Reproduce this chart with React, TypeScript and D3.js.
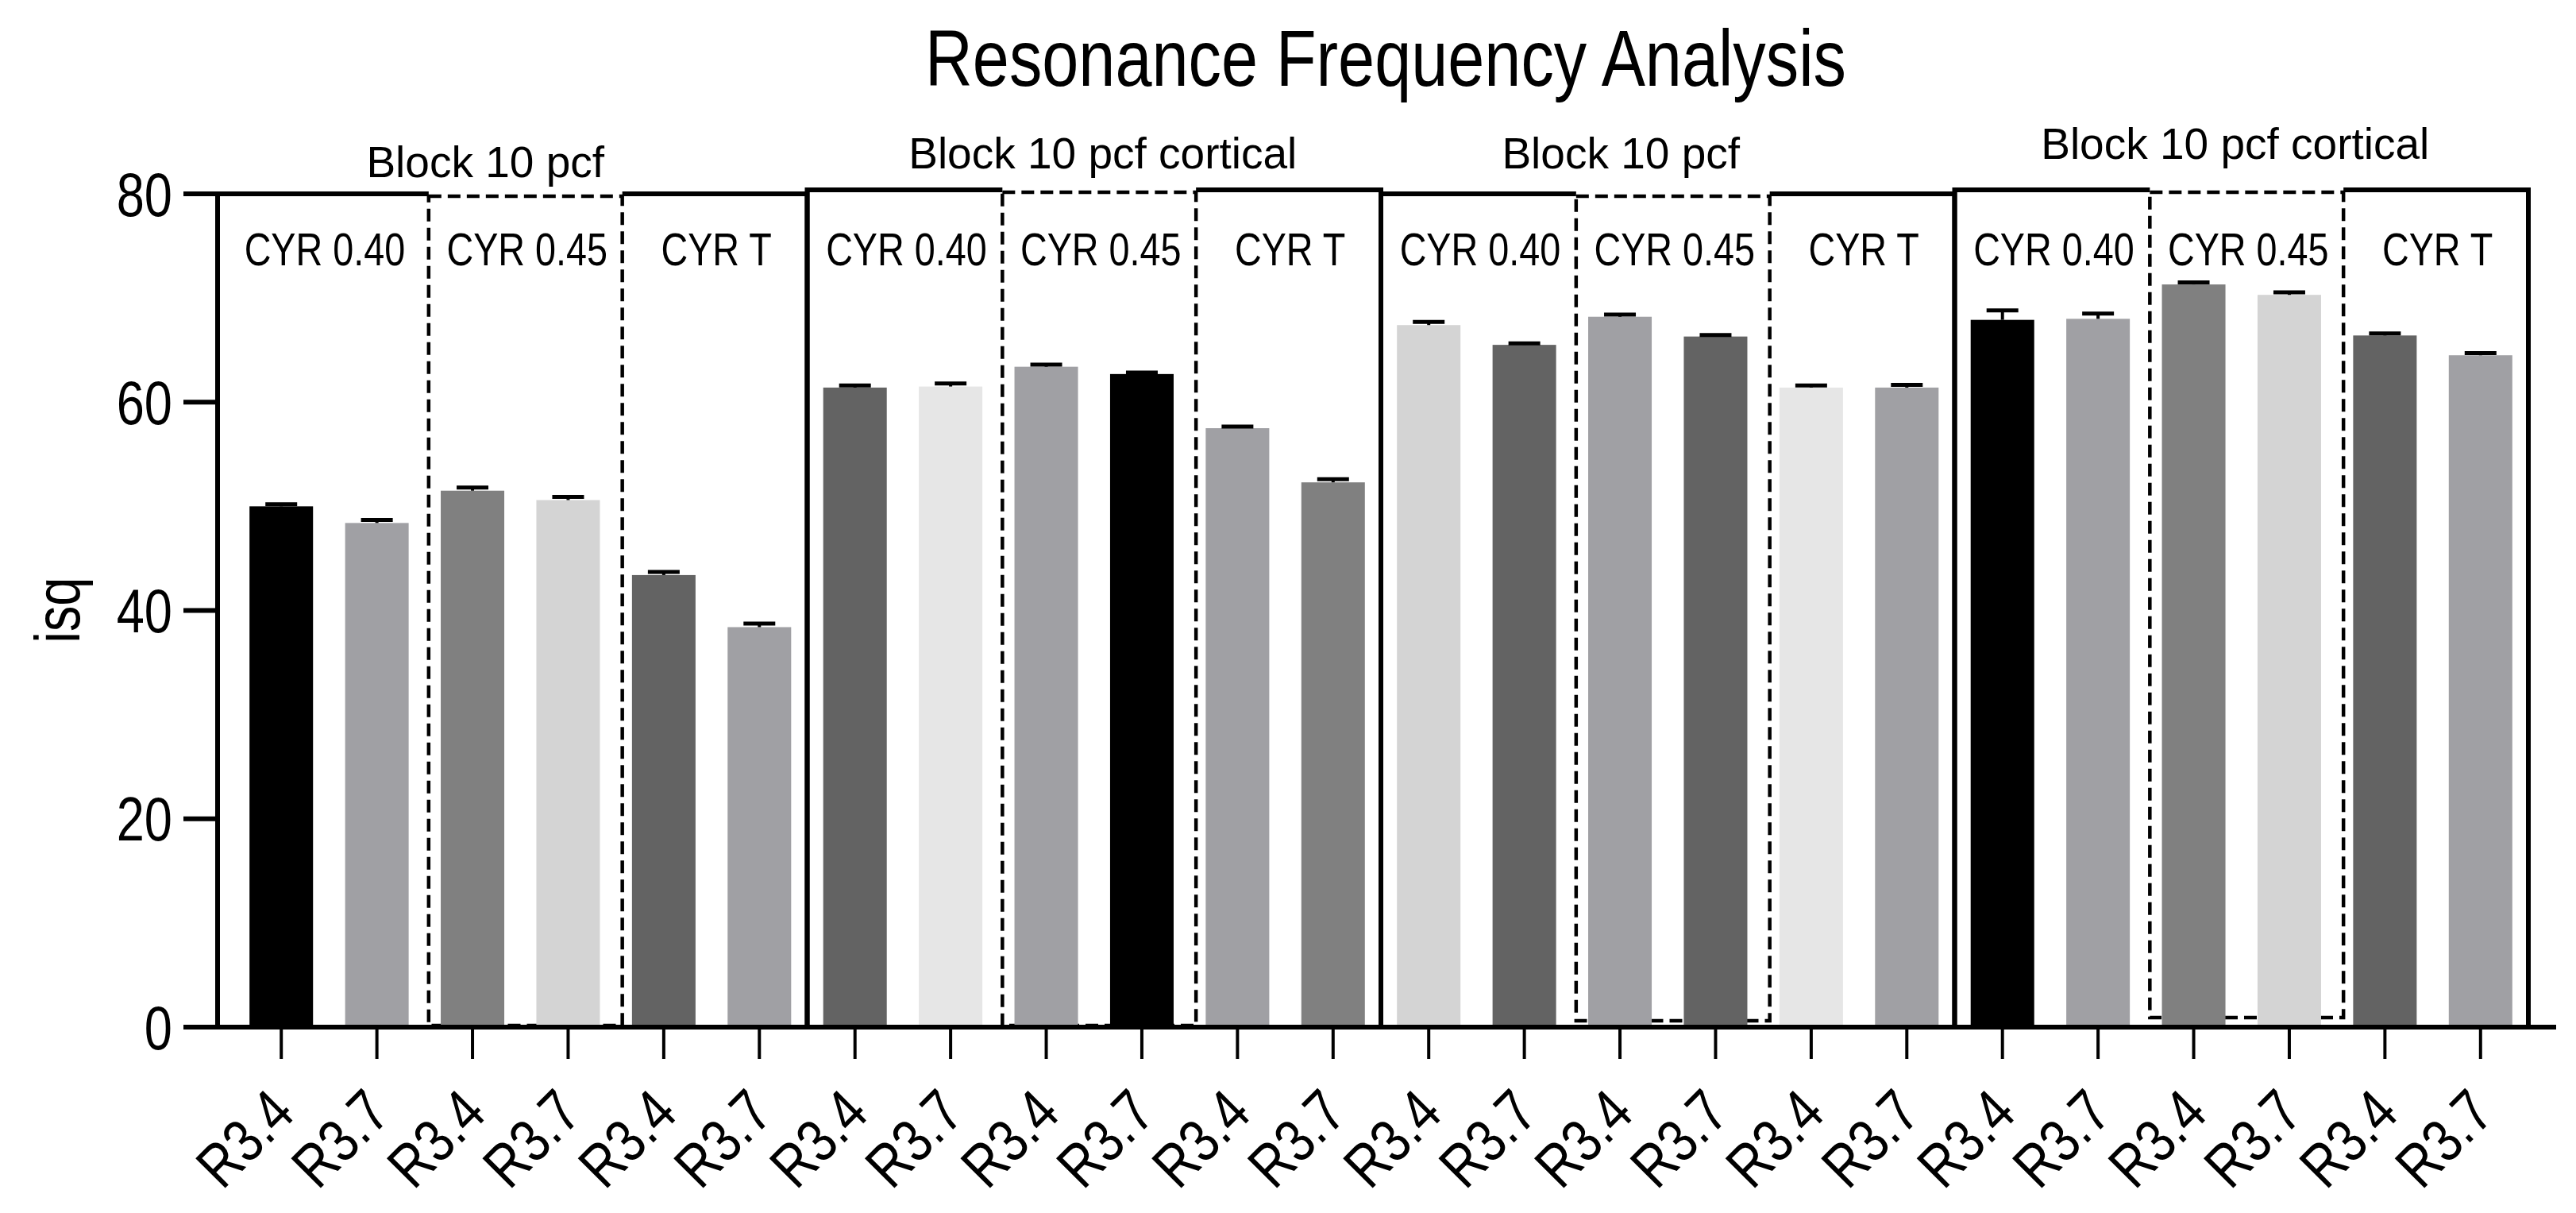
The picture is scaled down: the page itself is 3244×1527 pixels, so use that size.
import React, { useEffect } from 'react';
import * as d3 from 'd3';

// Resonance frequency (isq) per implant / block / drill protocol
const blockLabels = ['Block 10 pcf', 'Block 10 pcf cortical', 'Block 10 pcf', 'Block 10 pcf cortical'];
const groupLabels = ['CYR 0.40', 'CYR 0.45', 'CYR T'];
const implantLabels = ['R3.4', 'R3.7'];
const isqMeans = [
  50.0, 48.4, 51.5, 50.6, 43.4, 38.4,
  61.4, 61.5, 63.4, 62.7, 57.5, 52.3,
  67.4, 65.5, 68.2, 66.3, 61.4, 61.4,
  67.9, 68.0, 71.3, 70.3, 66.4, 64.5
];
const isqErrors = [
  0.2, 0.3, 0.3, 0.3, 0.3, 0.35,
  0.2, 0.3, 0.2, 0.15, 0.15, 0.3,
  0.3, 0.15, 0.2, 0.15, 0.2, 0.25,
  0.9, 0.5, 0.2, 0.25, 0.2, 0.2
];
const yTicks = [0, 20, 40, 60, 80];

// fills, one per bar (styling, kept apart from the values)
const barFills = [
  '#000000', '#a0a0a4', '#808080', '#d4d4d4', '#636363', '#a0a0a4',
  '#636363', '#e6e6e6', '#a0a0a4', '#000000', '#a0a0a4', '#808080',
  '#d4d4d4', '#636363', '#a0a0a4', '#636363', '#e6e6e6', '#a0a0a4',
  '#000000', '#a0a0a4', '#808080', '#d4d4d4', '#636363', '#a0a0a4'
];

// no narrow font installed -> squeeze Liberation Sans horizontally
const FONT = '"Liberation Sans", Arial, sans-serif';
const SQUEEZE = 0.82;

const W = 3244;
const H = 1527;
const axisX = 274;

const NarrowText: React.FC<{ x: number; y: number; size: number; anchor?: string; rotate?: number; dy?: string; children: React.ReactNode }> =
  ({ x, y, size, anchor = 'middle', rotate = 0, dy, children }) => (
    <text transform={`translate(${x},${y}) rotate(${rotate}) scale(${SQUEEZE},1)`} textAnchor={anchor}
      dy={dy} fontFamily={FONT} fontSize={size}>{children}</text>
  );

const App: React.FC = () => {
  useEffect(() => {
    document.body.style.margin = '0';
  }, []);

  const bars = isqMeans.map((m, i) => ({
    i,
    mean: m,
    err: isqErrors[i],
    label: implantLabels[i % 2]
  }));

  const y = d3.scaleLinear().domain([0, 80]).range([1293, 244]);
  const x = d3.scaleBand<number>()
    .domain(d3.range(bars.length))
    .range([294, 3184])
    .paddingInner(0.3355)
    .paddingOuter(0.3355 / 2);
  const step = x.step();
  const bound = (k: number) => 294 + k * step;
  const cx = (i: number) => (x(i) || 0) + x.bandwidth() / 2;

  const topNudge = [0, -5, 0, -5];
  const labelNudge = [{ dx: -34, y: 223 }, { dx: 11, y: 212 }, { dx: -59, y: 212 }, { dx: -8, y: 200 }];
  const dashBottom = [-2, -2, -8, -12];

  const blocks = blockLabels.map((name, b) => {
    const left = b === 0 ? axisX : bound(6 * b);
    const right = bound(6 * b + 6);
    const d1 = bound(6 * b + 2) + 5;
    const d2 = bound(6 * b + 4) + 8;
    const top = y(80) + topNudge[b];
    return { name, b, left, right, d1, d2, top };
  });

  const base = y(0);

  return (
    <svg width={W} height={H} style={{ display: 'block', background: '#fff' }}>
      <NarrowText x={1745} y={108} size={101}>Resonance Frequency Analysis</NarrowText>

      {blocks.map(bk => {
        const secs = [bk.left, bk.d1, bk.d2, bk.right];
        return (
          <g key={bk.b}>
            <text x={(bk.left + bk.right) / 2 + labelNudge[bk.b].dx} y={labelNudge[bk.b].y}
              textAnchor="middle" fontFamily={FONT} fontSize={55}>{bk.name}</text>
            <rect x={bk.d1} y={bk.top + 3} width={bk.d2 - bk.d1} height={base + dashBottom[bk.b] - bk.top - 3}
              fill="none" stroke="#000" strokeWidth={4.5} strokeDasharray="16,8" />
            <path d={`M${bk.left},${base}V${bk.top}H${bk.d1}M${bk.d2},${bk.top}H${bk.right}V${base}`}
              fill="none" stroke="#000" strokeWidth={6} />
            {groupLabels.map((g, s) => (
              <NarrowText key={g} x={(secs[s] + secs[s + 1]) / 2 + 2} y={334} size={57}>{g}</NarrowText>
            ))}
          </g>
        );
      })}

      {bars.map(d => (
        <g key={d.i}>
          <rect x={x(d.i)} y={y(d.mean)} width={x.bandwidth()} height={base - y(d.mean)} fill={barFills[d.i]} />
          <line x1={cx(d.i)} x2={cx(d.i)} y1={y(d.mean)} y2={y(d.mean + d.err)} stroke="#000" strokeWidth={4} />
          <line x1={cx(d.i) - 20} x2={cx(d.i) + 20} y1={y(d.mean + d.err)} y2={y(d.mean + d.err)}
            stroke="#000" strokeWidth={5} />
        </g>
      ))}

      {/* y axis */}
      <line x1={axisX} x2={axisX} y1={y(80) - 2} y2={base} stroke="#000" strokeWidth={6} />
      {yTicks.map(t => (
        <g key={t}>
          <line x1={231} x2={axisX} y1={y(t)} y2={y(t)} stroke="#000" strokeWidth={6} />
          <NarrowText x={217} y={y(t)} dy="0.36em" anchor="end" size={77}>{t}</NarrowText>
        </g>
      ))}
      <NarrowText x={100} y={768} rotate={-90} size={79}>isq</NarrowText>

      {/* x axis */}
      <line x1={231} x2={3219} y1={base} y2={base} stroke="#000" strokeWidth={6} />
      {bars.map(d => (
        <g key={d.i}>
          <line x1={cx(d.i)} x2={cx(d.i)} y1={base} y2={base + 40} stroke="#000" strokeWidth={4} />
          <NarrowText x={cx(d.i) + 20} y={1405} rotate={-45} anchor="end" size={77}>{d.label}</NarrowText>
        </g>
      ))}
    </svg>
  );
};

export default App;
